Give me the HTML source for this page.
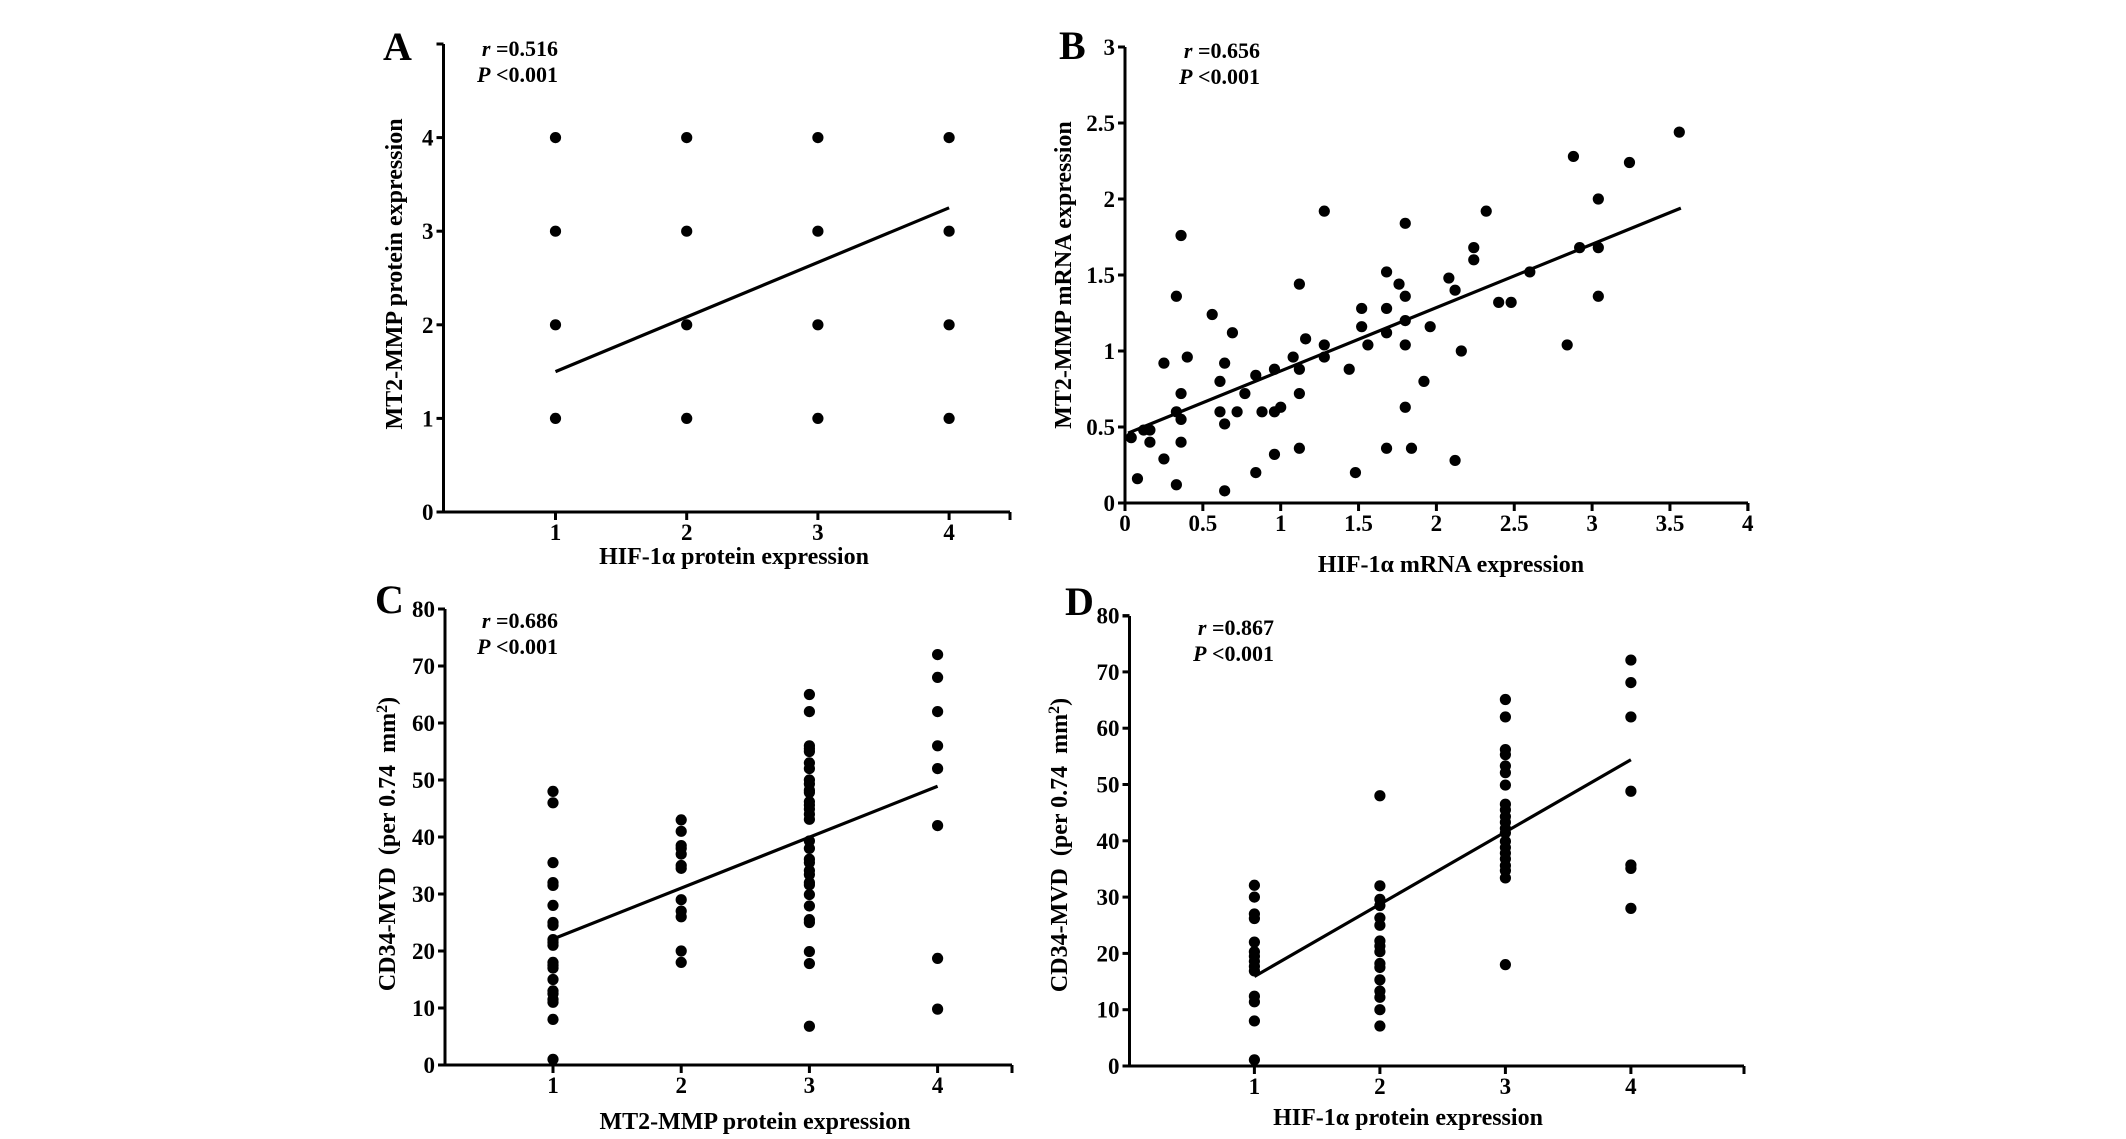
<!DOCTYPE html>
<html>
<head>
<meta charset="utf-8">
<style>
html,body{margin:0;padding:0;background:#fff;}
svg{display:block;}
text{font-family:"Liberation Serif","DejaVu Serif",serif;font-weight:bold;fill:#000;}
</style>
</head>
<body>
<svg id="fig" width="2126" height="1139" viewBox="0 0 2126 1139" xmlns="http://www.w3.org/2000/svg">
<rect x="0" y="0" width="2126" height="1139" fill="#fff"/>
</svg>
<script>
// ---------- Data ----------
// Panel A: MT2-MMP protein vs HIF-1a protein
const aXVals = [1,1,1,1, 2,2,2,2, 3,3,3,3, 4,4,4,4];
const aYVals = [1,2,3,4, 1,2,3,4, 1,2,3,4, 1,2,3,4];
const aFit = [1, 1.5, 4, 3.25];
const aXTicks = [1,2,3,4];
const aYTicks = [0,1,2,3,4];

// Panel B: MT2-MMP mRNA vs HIF-1a mRNA
const bXVals = [0.04,0.08,0.12,0.16,0.16,0.25,0.25,0.33,0.33,0.33,0.36,0.36,0.36,0.36,0.40,0.56,0.61,0.61,0.64,0.64,0.64,0.69,0.72,0.77,0.84,0.84,0.88,0.96,0.96,0.96,1.00,1.08,1.12,1.12,1.12,1.12,1.16,1.28,1.28,1.28,1.44,1.48,1.52,1.52,1.56,1.68,1.68,1.68,1.68,1.76,1.80,1.80,1.80,1.80,1.80,1.84,1.92,1.96,2.08,2.12,2.12,2.16,2.24,2.24,2.32,2.40,2.48,2.60,2.84,2.88,2.92,3.04,3.04,3.04,3.24,3.56];
const bYVals = [0.43,0.16,0.48,0.48,0.40,0.92,0.29,0.12,1.36,0.60,1.76,0.72,0.55,0.40,0.96,1.24,0.80,0.60,0.92,0.52,0.08,1.12,0.60,0.72,0.84,0.20,0.60,0.88,0.60,0.32,0.63,0.96,1.44,0.88,0.72,0.36,1.08,1.92,1.04,0.96,0.88,0.20,1.28,1.16,1.04,1.52,1.28,1.12,0.36,1.44,1.84,1.36,1.20,1.04,0.63,0.36,0.80,1.16,1.48,1.40,0.28,1.00,1.68,1.60,1.92,1.32,1.32,1.52,1.04,2.28,1.68,2.00,1.68,1.36,2.24,2.44];
const bFit = [0.02, 0.46, 3.57, 1.94];
const bXTicks = [0,0.5,1,1.5,2,2.5,3,3.5,4];
const bYTicks = [0,0.5,1,1.5,2,2.5,3];

// Panel C: CD34-MVD vs MT2-MMP protein
const cXVals = [1,1,1,1,1,1,1,1,1,1,1,1,1,1,1,1,1,1,1,1,1,
  2,2,2,2,2,2,2,2,2,2,2,2,
  3,3,3,3,3,3,3,3,3,3,3,3,3,3,3,3,3,3,3,3,3,3,3,3,3,3,3,3,3,3,3,
  4,4,4,4,4,4,4,4];
const cYVals = [48,46,35.5,32,31.5,28,25,24.5,22,21.5,21,18,17.5,17,15,13,12.5,11.5,11,8,1,
  43,41,38.5,38,37,35,34.5,29,27,26,20,18,
  65,62,56,55.5,55,53,52,50,49.3,48.2,47.8,46.2,45.6,44.9,44,43.1,39.3,38,36.1,35.5,34.1,33.4,32,31.6,29.9,27.9,25.5,25,19.9,17.8,6.8,
  72,68,62,56,52,42,18.7,9.8];
const cFit = [1, 22.1, 4, 48.9];
const cXTicks = [1,2,3,4];
const cYTicks = [0,10,20,30,40,50,60,70,80];

// Panel D: CD34-MVD vs HIF-1a protein
const dXVals = [1,1,1,1,1,1,1,1,1,1,1,1,1,1,
  2,2,2,2,2,2,2,2,2,2,2,2,2,2,2,2,
  3,3,3,3,3,3,3,3,3,3,3,3,3,3,3,3,3,3,3,3,3,
  4,4,4,4,4,4,4];
const dYVals = [32.1,30,27,26.2,22,20.3,19.5,18.6,17.7,16.9,12.4,11.4,8,1.1,
  48,32,29.6,28.5,26.3,25,22.2,21.3,20.3,18.2,17.5,15.3,13.3,12.2,10,7.1,
  65.1,62,56.2,55.3,53.3,52.1,49.9,46.5,45.5,44.3,43.3,42.2,41.4,39.9,38.8,37.8,36.8,35.6,34.7,33.4,18,
  72.1,68.1,62,48.8,35.7,35.1,28];
const dFit = [1, 15.9, 4, 54.4];
const dXTicks = [1,2,3,4];
const dYTicks = [0,10,20,30,40,50,60,70,80];

// ---------- Drawing ----------
const NS = "http://www.w3.org/2000/svg";
const svg = document.getElementById('fig');
function mk(tag, attrs, parent){
  const e = document.createElementNS(NS, tag);
  for (const k in attrs) e.setAttribute(k, attrs[k]);
  (parent||svg).appendChild(e);
  return e;
}

function drawPanel(p){
  const g = mk('g', {});
  
  
  const sx = v => p.xOrigin + (v - p.xRef) * p.xPer;
  const sy = v => p.yOrigin - v * p.yPer;
  const yAxis = mk('line', {x1:p.axL, y1:p.yOrigin+1.5, x2:p.axL, y2:p.axT, stroke:'#000','stroke-width':3}, g);
  
  
  const xAxis = mk('line', {x1:p.axL-1.5, y1:p.yOrigin, x2:p.axR, y2:p.yOrigin, stroke:'#000','stroke-width':3}, g);
  
  
  mk('line', {x1:p.axL-7, y1:p.axT, x2:p.axL, y2:p.axT, stroke:'#000','stroke-width':3}, g);
  mk('line', {x1:p.axR, y1:p.yOrigin, x2:p.axR, y2:p.yOrigin+8, stroke:'#000','stroke-width':3}, g);
  p.yTicks.forEach(v => {
    const y = sy(v);
    mk('line', {x1:p.axL-7, y1:y, x2:p.axL, y2:y, stroke:'#000','stroke-width':3}, g);
    const t = mk('text', {x:p.axL-10, y:y+8, 'text-anchor':'end','font-size':23}, g);
    t.textContent = String(v);
    
    
  });
  p.xTicks.forEach(v => {
    const x = sx(v);
    mk('line', {x1:x, y1:p.yOrigin, x2:x, y2:p.yOrigin+8, stroke:'#000','stroke-width':3}, g);
    const t = mk('text', {x:x, y:p.yOrigin+28, 'text-anchor':'middle','font-size':23}, g);
    t.textContent = String(v);
    
    
  });
  for (let i = 0; i < p.xs.length; i++){
    const c = mk('circle', {cx:sx(p.xs[i]), cy:sy(p.ys[i]), r:5.6, fill:'#000'}, g);
    
    
  }
  const f = p.fit;
  const ln = mk('line', {x1:sx(f[0]), y1:sy(f[1]), x2:sx(f[2]), y2:sy(f[3]), stroke:'#000','stroke-width':3.2}, g);
  
  
  const L = mk('text', {x:p.letterX, y:p.letterY, 'font-size':40}, g);
  L.textContent = p.id;
  
  
  const r = mk('text', {x:p.statX, y:p.statY, 'text-anchor':'end','font-size':22}, g);
  r.innerHTML = '<tspan font-style="italic">r</tspan> =' + p.r;
  
  
  const pv = mk('text', {x:p.statX, y:p.statY+26, 'text-anchor':'end','font-size':22}, g);
  pv.innerHTML = '<tspan font-style="italic">P</tspan> &lt;0.001';
  
  
  const xt = mk('text', {x:p.xtX, y:p.xtY, 'text-anchor':'middle','font-size':24}, g);
  xt.textContent = p.xTitle;
  
  
  const yt = mk('text', {x:0, y:0, 'text-anchor':'middle','font-size':24,
    transform:'translate(' + p.ytX + ',' + p.ytY + ') rotate(-90)'}, g);
  yt.innerHTML = p.yTitle;
  
  
}

const mvdTitle = 'CD34-MVD\u00a0\u00a0(per 0.74\u00a0\u00a0mm<tspan baseline-shift="super" font-size="16">2</tspan>)';

drawPanel({id:'A', xs:aXVals, ys:aYVals, fit:aFit, xTicks:aXTicks, yTicks:aYTicks,
  xOrigin:555.5, xRef:1, xPer:131.2, yOrigin:512, yPer:93.6, axL:443.5, axR:1010, axT:44,
  letterX:383, letterY:60, statX:558, statY:56, r:'0.516',
  xTitle:'HIF-1\u03b1 protein expression', xtX:734, xtY:564,
  yTitle:'MT2-MMP protein expression', ytX:402, ytY:274});

drawPanel({id:'B', xs:bXVals, ys:bYVals, fit:bFit, xTicks:bXTicks, yTicks:bYTicks,
  xOrigin:1125, xRef:0, xPer:155.7, yOrigin:503, yPer:152, axL:1125, axR:1748, axT:47,
  letterX:1059, letterY:59, statX:1260, statY:58, r:'0.656',
  xTitle:'HIF-1\u03b1 mRNA expression', xtX:1451, xtY:572,
  yTitle:'MT2-MMP mRNA expression', ytX:1071, ytY:275});

drawPanel({id:'C', xs:cXVals, ys:cYVals, fit:cFit, xTicks:cXTicks, yTicks:cYTicks,
  xOrigin:553, xRef:1, xPer:128.2, yOrigin:1065, yPer:5.7, axL:445, axR:1012, axT:609,
  letterX:375, letterY:613, statX:558, statY:628, r:'0.686',
  xTitle:'MT2-MMP protein expression', xtX:755, xtY:1129,
  yTitle:mvdTitle, ytX:395, ytY:844});

drawPanel({id:'D', xs:dXVals, ys:dYVals, fit:dFit, xTicks:dXTicks, yTicks:dYTicks,
  xOrigin:1254.4, xRef:1, xPer:125.5, yOrigin:1066, yPer:5.63, axL:1129.5, axR:1744, axT:616,
  letterX:1065, letterY:615, statX:1274, statY:635, r:'0.867',
  xTitle:'HIF-1\u03b1 protein expression', xtX:1408, xtY:1125,
  yTitle:mvdTitle, ytX:1067, ytY:845});
</script>
</body>
</html>
